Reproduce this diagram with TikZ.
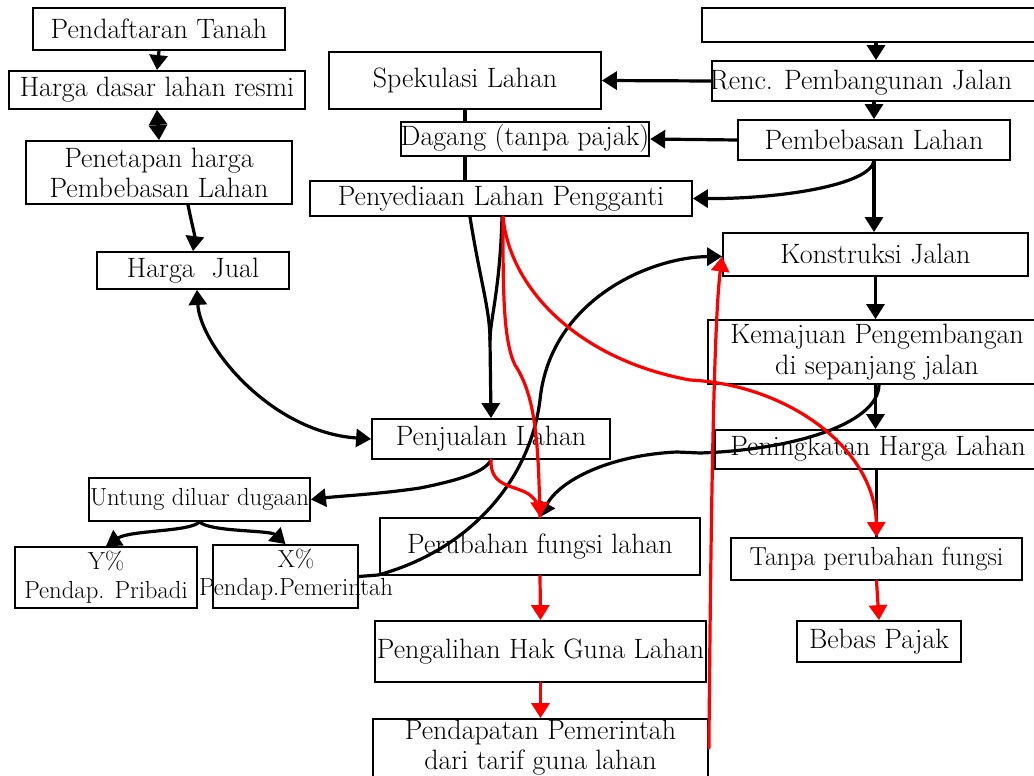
\documentclass[tikz,border=0pt]{standalone}
\usepackage{fontspec}
\usetikzlibrary{arrows.meta}
\tikzset{
  box/.style={draw, line width=1.8pt, inner sep=0pt, align=center,
    font=\fontsize{28}{30}\selectfont},
  smallbox/.style={box, font=\fontsize{24.7}{29}\selectfont},
  lbl/.style={inner sep=0pt, align=center, font=\fontsize{28}{31}\selectfont},
  smalllbl/.style={lbl, font=\fontsize{24.7}{28}\selectfont},
  link/.style={line width=3.2pt, line join=round, line cap=round},
  tip/.tip={Triangle[length=15pt,width=18pt]},
  arr/.style={link, -tip},
  dblarr/.style={link, tip-tip},
  rlink/.style={link, red},
  rarr/.style={arr, red},
}
\begin{document}
\begin{tikzpicture}[x=1pt, y=-1pt]
\useasboundingbox (0,0) rectangle (1034,776);
\clip (0,0) rectangle (1034,776);

% ---- left column: official price chain
\node[box, minimum width=252pt, minimum height=42pt] (pend) at (159,29) {Pendaftaran Tanah};
\node[box, minimum width=296pt, minimum height=38pt] (hdl) at (157,90) {Harga dasar lahan resmi};
\node[box, minimum width=266pt, minimum height=63pt] (pene) at (159,172.5) {Penetapan harga\\Pembebasan Lahan};
\node[box, minimum width=192pt, minimum height=37pt] (hjual) at (193,270.5) {Harga\ \ Jual};

% ---- middle column
\node[box, minimum width=272pt, minimum height=57pt] (spek) at (465,80.5) {Spekulasi Lahan};
\node[box, minimum width=244pt, minimum height=34pt] (dag) at (525,139) {Dagang (tanpa pajak)};
\node[box, minimum width=382pt, minimum height=35pt] (peny) at (501,198.5) {Penyediaan Lahan Pengganti};
\node[box, minimum width=238pt, minimum height=40pt] (penj) at (491,439) {Penjualan Lahan};
\node[box, minimum width=320pt, minimum height=57pt] (peru) at (540,546.5) {Perubahan fungsi lahan};
\node[box, minimum width=331pt, minimum height=61pt] (peng) at (540.5,651.5) {Pengalihan Hak Guna Lahan};
\node[box, minimum width=335pt, minimum height=58pt] (pdpt) at (540.5,748) {Pendapatan Pemerintah\\dari tarif guna lahan};

% ---- right column
\node[box, minimum width=348pt, minimum height=34pt] (topbox) at (876,25) {};
\node[box, minimum width=338pt, minimum height=40pt] (renc) at (881,81) {};
\node[lbl] at (861,83) {Renc. Pembangunan Jalan};
\node[box, minimum width=272pt, minimum height=40pt] (pemb) at (874,140) {Pembebasan Lahan};
\node[box, minimum width=305pt, minimum height=43pt] (kons) at (875.5,254.5) {Konstruksi Jalan};
\node[box, minimum width=342pt, minimum height=64pt] (kema) at (879,352) {};
\node[lbl] at (877,352) {Kemajuan Pengembangan\\di sepanjang jalan};
\node[box, minimum width=335pt, minimum height=39pt] (peni) at (882.5,449.5) {};
\node[lbl] at (878,449) {Peningkatan Harga Lahan};
\node[smallbox, font=\fontsize{26}{30}\selectfont, minimum width=291pt, minimum height=42pt] (tanpa) at (876.5,559) {Tanpa perubahan fungsi};
\node[box, minimum width=164pt, minimum height=41pt] (bebas) at (879,641.5) {Bebas Pajak};

% ---- windfall split
\node[smallbox, minimum width=221pt, minimum height=43pt] (untung) at (199.5,499.5) {Untung diluar dugaan};
\node[smallbox, minimum width=182pt, minimum height=61pt] (ypct) at (106,577.5) {Y\%\\Pendap. Pribadi};
\node[box, minimum width=145pt, minimum height=63pt] (xpct) at (285.5,576.5) {};
\node[smalllbl] at (296,575) {X\%\\Pendap.Pemerintah};

% ---- black connectors
\draw[arr] (pend.south) -- (hdl.north);
\draw[dblarr] (hdl.south) -- (pene.north);
\draw[arr] ([xshift=29pt]pene.south) .. controls (192,225) and (195,235) .. (hjual.north);
\draw[dblarr] ([xshift=4pt]hjual.south) .. controls (200,345) and (270,432) .. (penj.west);

\draw[arr] (topbox.south) -- (topbox.south |- renc.north);
\draw[arr] (pemb.north |- renc.south) -- (pemb.north);
\draw[arr] (renc.west) -- (spek.east);
\draw[arr] (pemb.west) -- (dag.east);
\draw[arr] (pemb.south) .. controls (870,185) and (780,199) .. (peny.east);
\draw[arr] (pemb.south) -- (pemb.south |- kons.north);
\draw[arr] (kons.south) -- (kons.south |- kema.north);
\draw[arr] (kema.south -| kons.south) -- (kons.south |- peni.north);
\draw[link] (peni.south -| tanpa.north) -- (tanpa.north);

\draw[link] (spek.south) -- (spek.south |- dag.north);
\draw[link] (spek.south |- dag.south) -- (spek.south |- peny.north);
\draw[link] ([xshift=-31pt]peny.south) .. controls (480,280) and (490,310) .. (490,340);
\draw[arr] ([xshift=1pt]peny.south) .. controls (500,290) and (490,320) .. (490,340) -- (penj.north);

\draw[arr] (kema.south) .. controls (878,425) and (790,450) .. (700,453)
  -- (677,452) .. controls (610,455) and (560,480) .. (peru.north);

\draw[arr] (penj.south) .. controls (485,472) and (460,480) .. (420,488)
  .. controls (380,494) and (340,496) .. (untung.east);
\draw[arr] (untung.south) .. controls (190,532) and (130,530) .. (ypct.north);
\draw[arr] (untung.south) .. controls (210,532) and (270,530) .. (xpct.north);

\draw[arr] (xpct.east) -- (378,575) .. controls (470,550) and (530,480) .. (540,400)
  .. controls (550,300) and (650,257) .. ([yshift=-2pt]kons.west);

% ---- red connectors
\draw[rarr] ([xshift=2pt]peny.south) .. controls (503,290) and (503,340) .. (515,365)
  .. controls (535,395) and (538,440) .. (peru.north);
\draw[rarr] ([xshift=2pt]peny.south) .. controls (510,290) and (580,360) .. (690,380)
  .. controls (790,385) and (875,450) .. (tanpa.north);
\draw[rlink] (penj.south) .. controls (490,485) and (510,485) .. (525,492)
  .. controls (535,497) and (540,505) .. (peru.north);
\draw[rarr] (peru.south) -- (peng.north);
\draw[rarr] (peng.south) -- (pdpt.north);
\draw[rarr] (tanpa.south) -- (bebas.north);
\draw[rarr] (pdpt.east) .. controls (711,500) and (714,320) .. ([yshift=-2pt]kons.west);
\end{tikzpicture}
\end{document}
